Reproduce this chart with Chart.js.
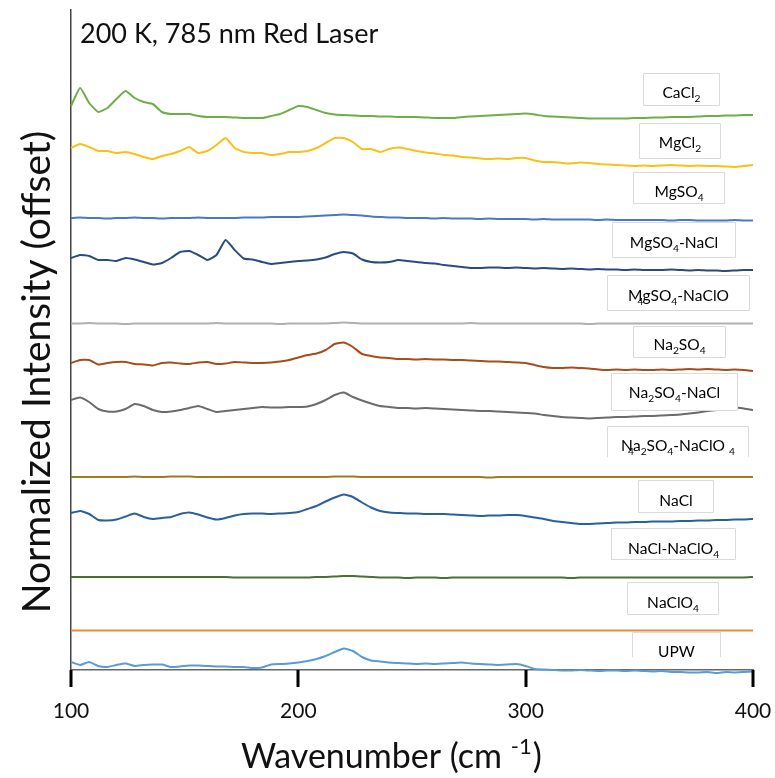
<!DOCTYPE html>
<html>
<head>
<meta charset="utf-8">
<script src="https://cdn.jsdelivr.net/npm/chart.js@4"></script>
<style>
  html, body { margin: 0; padding: 0; background: #fff; }
  canvas { display: block; }
</style>
</head>
<body>
<canvas id="grafica" width="775" height="778"></canvas>
<script>
// Raman spectra, 200 K, 785 nm. One row of relative intensities per sample,
// stacked with a fixed offset each.
const wavenumbers = [100, 104, 108, 112, 116, 120, 124, 128, 132, 136,
  140, 144, 148, 152, 156, 160, 164, 168, 172, 176,
  180, 184, 188, 192, 196, 200, 204, 208, 212, 216,
  220, 224, 228, 232, 236, 240, 244, 248, 252, 256,
  260, 264, 268, 272, 276, 280, 284, 288, 292, 296,
  300, 304, 308, 312, 316, 320, 324, 328, 332, 336,
  340, 344, 348, 352, 356, 360, 364, 368, 372, 376,
  380, 384, 388, 392, 396, 400];

const muestras = ["CaCl_2", "MgCl_2", "MgSO_4", "MgSO_4-NaCl", "MgSO_4-NaClO", "Na_2SO_4",
  "Na_2SO_4-NaCl", "Na_2SO_4-NaClO _4", "NaCl", "NaCl-NaClO_4", "NaClO_4", "UPW"];

const offsets = [55.2, 50.5, 45.2, 40.2, 34.65, 30.1, 26.0, 19.3, 15.0, 9.25, 3.95, 0.4];

const colores = ["#70ad47", "#fbbf17", "#4a78c8", "#2a4a80", "#b0b0b0", "#a84d1a",
  "#6b6b6b", "#9b7a2a", "#27609a", "#4a7032", "#f0883e", "#5b9bd5"];

const cacl2 = [1.2, 3.0, 1.5, 0.6, 1.0, 1.9, 2.7, 2.0, 1.6, 1.4,
  0.6, 0.4, 0.4, 0.4, 0.2, 0.1, 0.1, 0.1, 0.05, 0,
  0, 0, 0.2, 0.4, 0.8, 1.2, 1.1, 0.8, 0.5, 0.35,
  0.3, 0.25, 0.2, 0.2, 0.15, 0.15, 0.1, 0.1, 0.1, 0.05,
  0, 0, 0, 0.1, 0.15, 0.2, 0.25, 0.3, 0.35, 0.4,
  0.45, 0.35, 0.2, 0.15, 0.1, 0.05, 0, -0.05, -0.05, -0.05,
  -0.05, -0.05, 0, 0, 0.05, 0.05, 0.1, 0.1, 0.1, 0.15,
  0.2, 0.2, 0.25, 0.25, 0.3, 0.3];

const mgcl2 = [1.7, 2.1, 1.8, 1.4, 1.4, 1.2, 1.3, 1.1, 0.8, 0.6,
  0.9, 1.1, 1.4, 1.8, 1.2, 1.4, 2.0, 2.7, 1.7, 1.3,
  1.2, 1.2, 1.0, 1.1, 1.3, 1.3, 1.4, 1.7, 2.2, 2.7,
  2.7, 2.3, 1.6, 1.6, 1.3, 1.6, 1.75, 1.6, 1.4, 1.25,
  1.15, 1.0, 0.95, 0.8, 0.75, 0.65, 0.6, 0.65, 0.6, 0.7,
  0.7, 0.45, 0.3, 0.3, 0.2, 0.15, 0.25, 0.2, 0.1, 0.05,
  0, -0.05, -0.1, -0.05, -0.1, -0.05, 0, -0.05, -0.1, -0.05,
  -0.1, -0.1, -0.15, -0.2, -0.1, 0];

const mgso4 = [0, 0.05, 0, 0, -0.05, 0, 0, 0.05, 0, 0,
  -0.05, 0, 0, 0, 0.05, 0, 0, 0, 0, 0.05,
  0.05, 0.05, 0.1, 0.1, 0.1, 0.1, 0.15, 0.2, 0.25, 0.3,
  0.35, 0.3, 0.25, 0.15, 0.1, 0.05, 0.05, 0, 0, 0,
  -0.05, 0, -0.05, -0.05, -0.05, -0.1, -0.05, -0.1, -0.1, -0.1,
  -0.1, -0.15, -0.1, -0.15, -0.15, -0.15, -0.15, -0.15, -0.2, -0.15,
  -0.2, -0.2, -0.2, -0.2, -0.2, -0.2, -0.25, -0.2, -0.2, -0.25,
  -0.25, -0.25, -0.25, -0.2, -0.25, -0.25];

const mgso4Nacl = [1.0, 1.3, 1.2, 0.8, 0.8, 0.7, 1.0, 0.85, 0.6, 0.35,
  0.5, 1.0, 1.6, 1.7, 1.3, 0.8, 1.3, 2.8, 1.8, 0.95,
  0.85, 0.6, 0.4, 0.5, 0.6, 0.7, 0.75, 0.85, 1.05, 1.4,
  1.6, 1.45, 0.85, 0.6, 0.55, 0.6, 0.8, 0.7, 0.6, 0.5,
  0.45, 0.3, 0.2, 0.1, 0, 0, 0.05, 0.05, 0, 0.05,
  0, -0.05, 0, -0.05, -0.1, -0.05, -0.1, -0.15, -0.1, -0.15,
  -0.15, -0.2, -0.15, -0.2, -0.2, -0.2, -0.15, -0.2, -0.25, -0.2,
  -0.25, -0.25, -0.3, -0.25, -0.2, -0.2];

const mgso4Naclo4 = [0, 0, 0.05, 0, 0, 0, -0.05, 0, 0, 0,
  0, 0, 0, 0, 0, 0, 0.05, 0, 0, 0,
  0, 0, 0, -0.05, 0, 0, 0, 0, 0, 0.05,
  0.1, 0.05, 0, 0, 0, 0, 0, 0, 0, 0,
  0, 0, 0, 0, 0.05, 0, 0, 0, 0, 0,
  0, 0, 0, 0, 0, 0, 0, -0.05, 0, 0,
  0, 0, 0, 0, 0, 0, 0, 0, 0, 0,
  0, 0, 0, 0, 0, 0];

const na2so4 = [0.6, 0.9, 0.9, 0.45, 0.6, 0.7, 0.7, 0.5, 0.45, 0.35,
  0.6, 0.65, 0.55, 0.5, 0.65, 0.7, 0.5, 0.55, 0.7, 0.65,
  0.6, 0.6, 0.65, 0.75, 0.9, 1.15, 1.4, 1.55, 1.9, 2.5,
  2.65, 2.2, 1.5, 1.3, 1.15, 1.1, 1.0, 1.0, 0.95, 1.0,
  0.95, 0.95, 0.9, 0.9, 0.85, 0.8, 0.75, 0.75, 0.7, 0.65,
  0.6, 0.4, 0.2, 0.1, 0.1, 0.15, 0.1, 0.05, -0.05, -0.1,
  -0.05, -0.1, -0.05, -0.1, -0.1, -0.05, -0.1, -0.05, 0, -0.05,
  0, -0.05, -0.1, -0.05, -0.1, -0.2];

const na2so4Nacl = [1.0, 1.25, 0.8, 0.1, -0.15, -0.15, 0.1, 0.6, 0.4, 0,
  -0.2, -0.15, 0, 0.2, 0.4, 0.1, -0.2, -0.1, 0, 0.1,
  0.2, 0.3, 0.25, 0.25, 0.3, 0.3, 0.35, 0.6, 1.0, 1.5,
  1.75, 1.3, 0.95, 0.65, 0.4, 0.3, 0.2, 0.2, 0.15, 0.2,
  0.15, 0.1, 0.05, 0, -0.05, -0.1, -0.1, -0.15, -0.2, -0.25,
  -0.3, -0.35, -0.5, -0.6, -0.7, -0.75, -0.8, -0.85, -0.8, -0.75,
  -0.7, -0.7, -0.65, -0.6, -0.6, -0.55, -0.5, -0.45, -0.35, -0.25,
  -0.1, 0, 0.1, 0.25, 0.15, 0];

const na2so4Naclo4 = [0, 0, 0, 0, 0, 0, 0, 0.05, 0, 0,
  0, 0.05, 0.05, 0.05, 0, 0, 0, 0, 0, 0,
  0, 0, 0, 0, 0, 0, 0, 0, 0, 0.05,
  0.05, 0.05, 0, 0, 0, 0, 0, 0, 0, 0,
  0, 0, 0, 0, 0, 0, -0.05, 0, 0, 0,
  0, 0, 0, 0, 0, 0, 0, 0, 0, 0,
  0, 0, 0, 0, 0, 0, 0, 0, 0, 0,
  0, 0, 0, 0, 0, 0];

const nacl = [0.7, 0.9, 0.6, 0, -0.05, 0.05, 0.35, 0.65, 0.3, 0.1,
  0.2, 0.3, 0.6, 0.75, 0.55, 0.25, 0.05, 0.2, 0.45, 0.6,
  0.65, 0.65, 0.6, 0.65, 0.7, 0.8, 1.1, 1.4, 1.85, 2.25,
  2.55, 2.3, 1.75, 1.25, 0.9, 0.75, 0.7, 0.65, 0.65, 0.6,
  0.6, 0.6, 0.55, 0.5, 0.45, 0.4, 0.45, 0.45, 0.5, 0.5,
  0.4, 0.25, 0.1, -0.1, -0.2, -0.3, -0.4, -0.4, -0.35, -0.3,
  -0.25, -0.25, -0.2, -0.2, -0.15, -0.15, -0.15, -0.1, -0.1, -0.05,
  -0.05, 0, 0, 0.05, 0.05, 0.1];

const naclNaclo4 = [0.05, 0.05, 0.05, 0.05, 0.05, 0.05, 0.05, 0.05, 0.05, 0.05,
  0.05, 0.05, 0.05, 0.05, 0.05, 0.05, 0.05, 0.05, 0, 0,
  0, 0, 0, 0, 0, 0, 0, 0.05, 0.05, 0.1,
  0.15, 0.15, 0.1, 0.05, 0, 0, 0, -0.05, 0, 0,
  0, -0.05, 0, 0, 0, 0, 0, 0, 0, 0,
  0, 0, 0, 0, 0, -0.05, 0, 0, 0, 0,
  0, 0, 0, 0, 0, 0, 0, 0, 0, 0,
  0, 0, 0, 0, 0, 0.05];

const naclo4 = [0, 0, 0, 0, 0, 0, 0, 0, 0, 0,
  0, 0, 0, 0, 0, 0, 0, 0, 0, 0,
  0, 0, 0, 0, 0, 0, 0, 0, 0, 0,
  0, 0, 0, 0, 0, 0, 0, 0, 0, 0,
  0, 0, 0, 0, 0, 0, 0, 0, 0, 0,
  0, 0, 0, 0, 0, 0, 0, 0, 0, 0,
  0, 0, 0, 0, 0, 0, 0, 0, 0, 0,
  0, 0, 0, 0, 0, 0];

const upw = [0.4, 0.1, 0.4, 0, -0.1, 0.1, 0.25, 0, 0.1, 0.15,
  0.15, -0.1, -0.05, 0.05, 0.05, 0, -0.05, -0.05, -0.1, -0.1,
  -0.2, -0.15, 0.15, 0.2, 0.25, 0.35, 0.5, 0.7, 1.0, 1.4,
  1.75, 1.5, 0.9, 0.55, 0.45, 0.35, 0.3, 0.25, 0.2, 0.25,
  0.2, 0.25, 0.3, 0.35, 0.25, 0.2, 0.15, 0.1, 0.15, 0.2,
  0, -0.3, -0.35, -0.4, -0.45, -0.45, -0.4, -0.45, -0.5, -0.45,
  -0.45, -0.5, -0.45, -0.5, -0.55, -0.5, -0.6, -0.6, -0.65, -0.65,
  -0.6, -0.7, -0.6, -0.65, -0.6, -0.55];

const espectros = [cacl2, mgcl2, mgso4, mgso4Nacl, mgso4Naclo4, na2so4,
  na2so4Nacl, na2so4Naclo4, nacl, naclNaclo4, naclo4, upw];

const xTicks = [100, 200, 300, 400];

// label boxes on the right (pixels): left, top, right, bottom, text baseline
const cajas = [
  { x0: 643, y0: 73, x1: 720, y1: 106, base: 98 },
  { x0: 639, y0: 123, x1: 721, y1: 159, base: 148 },
  { x0: 633, y0: 172, x1: 725, y1: 204, base: 197 },
  { x0: 612, y0: 222, x1: 736, y1: 258, base: 248 },
  { x0: 607, y0: 275, x1: 750, y1: 311, base: 301, extra: true },
  { x0: 633, y0: 326, x1: 726, y1: 358, base: 350 },
  { x0: 611, y0: 373, x1: 738, y1: 411, base: 398 },
  { x0: 607, y0: 426, x1: 749, y1: 457, base: 451, extra: true, abierta: true },
  { x0: 638, y0: 480, x1: 714, y1: 513, base: 506 },
  { x0: 611, y0: 528, x1: 736, y1: 560, base: 554 },
  { x0: 627, y0: 582, x1: 719, y1: 615, base: 608 },
  { x0: 632, y0: 632, x1: 721, y1: 657, base: 657, abierta: true }
];

const FUENTE = "Lato, 'Open Sans', sans-serif";

function piezas(txt) {
  const out = [];
  for (let i = 0; i < txt.length; i++) {
    if (txt[i] === "_") { out.push({ t: txt[i + 1], sub: true }); i++; }
    else out.push({ t: txt[i], sub: false });
  }
  return out;
}

function textoRico(ctx, txt, cx, base, size) {
  const ps = piezas(txt);
  const sub = size * 0.66;
  let total = 0;
  ps.forEach(p => {
    ctx.font = (p.sub ? sub : size) + "px " + FUENTE;
    p.w = ctx.measureText(p.t).width;
    total += p.w;
  });
  let x = cx - total / 2;
  const inicio = x;
  ps.forEach(p => {
    ctx.font = (p.sub ? sub : size) + "px " + FUENTE;
    ctx.fillText(p.t, x, p.sub ? base + size * 0.28 : base);
    x += p.w;
  });
  return { inicio, primera: ps[0].w };
}

const textos = {
  id: "textos",
  afterDatasetsDraw(chart) {
    const ctx = chart.ctx;
    ctx.save();
    ctx.textAlign = "left";
    ctx.textBaseline = "alphabetic";

    cajas.forEach((c, i) => {
      ctx.fillStyle = "#fff";
      ctx.fillRect(c.x0, c.y0, c.x1 - c.x0, c.y1 - c.y0);
      ctx.strokeStyle = "#dadada";
      ctx.lineWidth = 1;
      ctx.beginPath();
      if (c.abierta) {
        ctx.moveTo(c.x0 + 0.5, c.y1);
        ctx.lineTo(c.x0 + 0.5, c.y0 + 0.5);
        ctx.lineTo(c.x1 - 0.5, c.y0 + 0.5);
        ctx.lineTo(c.x1 - 0.5, c.y1);
      } else {
        ctx.rect(c.x0 + 0.5, c.y0 + 0.5, c.x1 - c.x0 - 1, c.y1 - c.y0 - 1);
      }
      ctx.stroke();
      ctx.fillStyle = "#000";
      const r = textoRico(ctx, muestras[i], (c.x0 + c.x1) / 2, c.base, 15.5);
      if (c.extra) {
        ctx.font = (15.5 * 0.66) + "px " + FUENTE;
        ctx.fillText("4", r.inicio + r.primera - 5, c.base + 15.5 * 0.28);
      }
    });

    // x tick marks, hanging below the axis
    const sx = chart.scales.x;
    ctx.strokeStyle = "#000";
    ctx.lineWidth = 3;
    xTicks.forEach(v => {
      const px = Math.round(sx.getPixelForValue(v));
      ctx.beginPath();
      ctx.moveTo(px, sx.top);
      ctx.lineTo(px, sx.top + 17);
      ctx.stroke();
    });

    // title inside the plot
    ctx.fillStyle = "#111";
    ctx.font = "27px " + FUENTE;
    ctx.fillText("200 K, 785 nm Red Laser", 80, 43);

    // y axis title
    ctx.save();
    ctx.translate(50, 372);
    ctx.rotate(-Math.PI / 2);
    ctx.textAlign = "center";
    ctx.font = "39px " + FUENTE;
    ctx.fillText("Normalized Intensity (offset)", 0, 0);
    ctx.restore();

    // x axis title with superscript
    ctx.font = "34px " + FUENTE;
    let x = 241;
    const a = "Wavenumber (cm ";
    ctx.fillText(a, x, 768);
    x += ctx.measureText(a).width;
    ctx.font = "22px " + FUENTE;
    ctx.fillText("-1", x, 754);
    x += ctx.measureText("-1").width + 1;
    ctx.font = "34px " + FUENTE;
    ctx.fillText(")", x, 768);
    ctx.restore();
  }
};

const datasets = espectros.map((serie, i) => ({
  label: muestras[i].replace(/_/g, ""),
  data: wavenumbers.map((w, j) => ({ x: w, y: offsets[i] + serie[j] })),
  borderColor: colores[i],
  borderWidth: 2,
  pointRadius: 0,
  tension: 0.15,
  fill: false,
  clip: false
}));

new Chart(document.getElementById("grafica"), {
  type: "line",
  data: { datasets },
  options: {
    responsive: false,
    animation: false,
    devicePixelRatio: 1,
    layout: { padding: { top: 10, right: 22, left: 0, bottom: 0 } },
    plugins: { legend: { display: false }, tooltip: { enabled: false } },
    scales: {
      x: {
        type: "linear",
        min: 100,
        max: 400,
        afterFit(s) { s.height = 108; s.paddingLeft = 0; s.paddingRight = 0; },
        afterBuildTicks(s) { s.ticks = xTicks.map(v => ({ value: v })); },
        ticks: { color: "#111", padding: 21, maxRotation: 0, font: { family: FUENTE, size: 21 } },
        grid: { display: false },
        border: { color: "#666", width: 1.5 }
      },
      y: {
        min: 0,
        max: 66,
        afterFit(s) { s.width = 71; },
        ticks: { display: false },
        grid: { display: false },
        border: { color: "#444", width: 1.5 }
      }
    }
  },
  plugins: [textos]
});
</script>
</body>
</html>
